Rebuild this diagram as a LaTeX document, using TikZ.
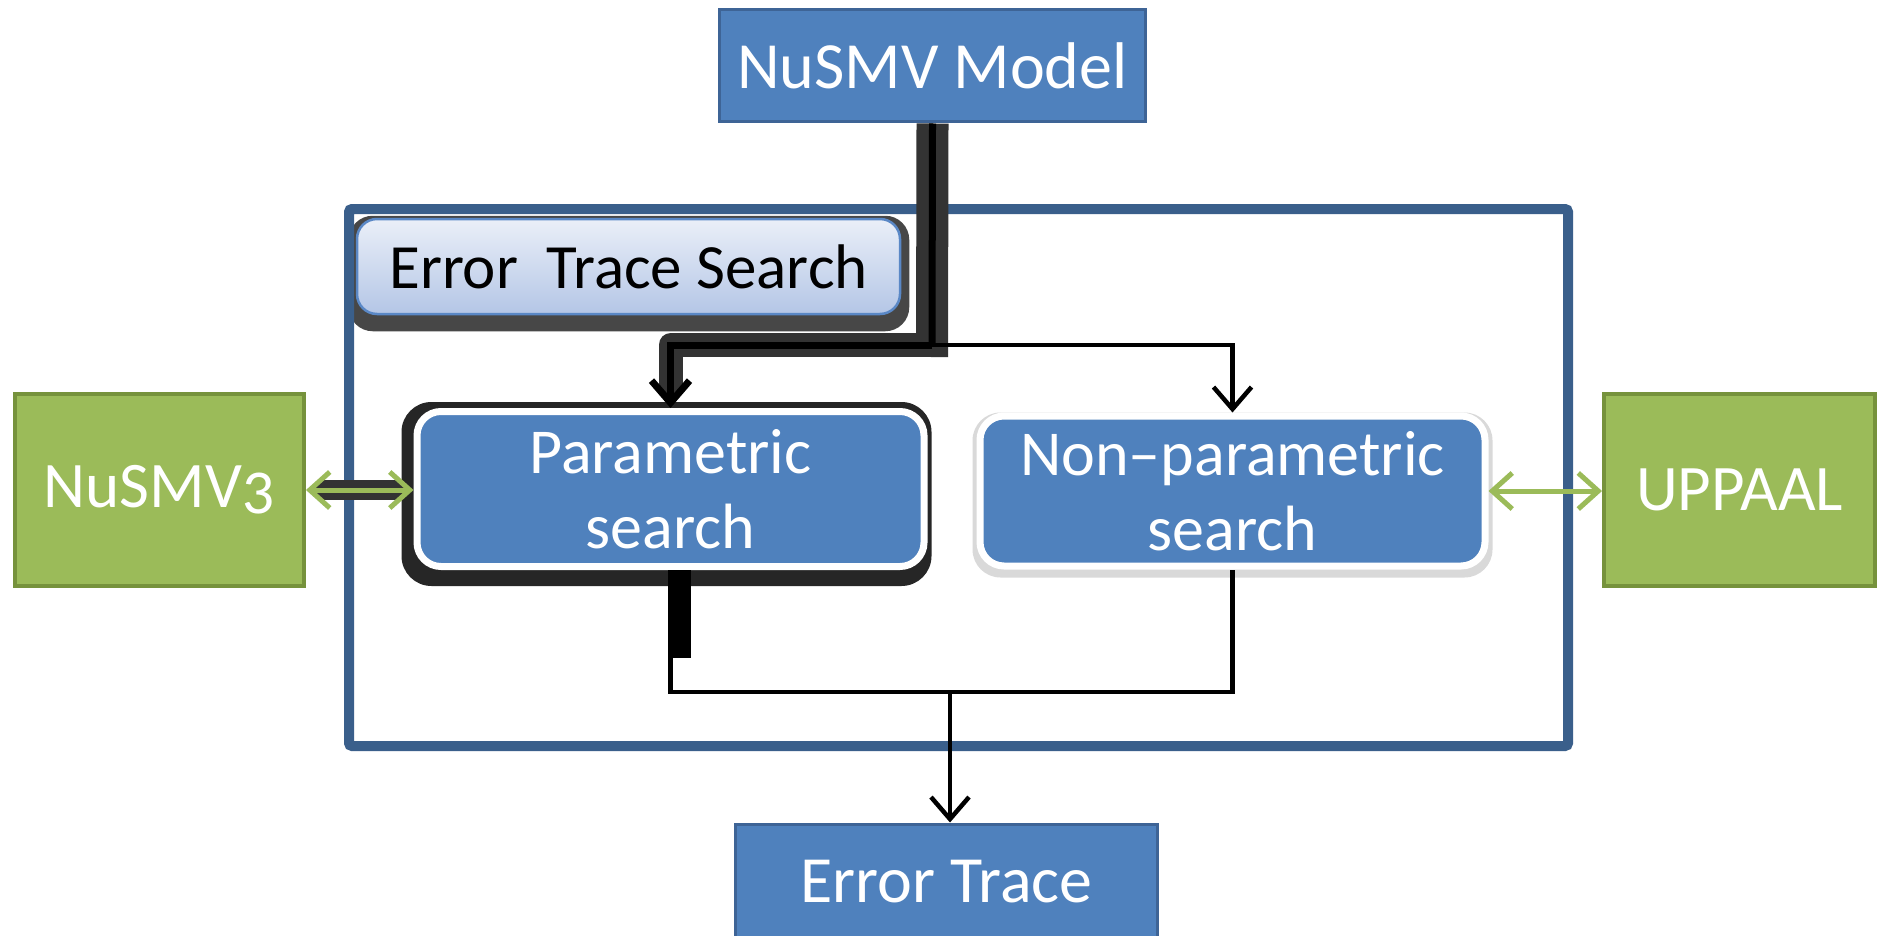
\documentclass[tikz,border=0pt]{standalone}
\usepackage{fontspec}
\setmainfont{Carlito}
\newfontfamily\onumfont{Carlito}[Numbers=OldStyle]
\usetikzlibrary{arrows.meta}
\definecolor{boxblue}{HTML}{4F81BD}
\definecolor{boxedge}{HTML}{3E6496}
\definecolor{framecol}{HTML}{3A5F8B}
\definecolor{boxgreen}{HTML}{9BBB59}
\definecolor{greenedge}{HTML}{76923C}
\definecolor{labeltop}{HTML}{EAEFF8}
\definecolor{labelbot}{HTML}{B4C6E6}
\definecolor{labeledge}{HTML}{5A88C6}
\pgfdeclarelayer{bg}
\pgfdeclarelayer{paper}
\pgfsetlayers{paper,bg,main}
\begin{document}
\begin{tikzpicture}[x=1pt,y=-1pt,
  sqbox/.style={draw=boxedge,line width=3pt,fill=boxblue,text=white,font=\fontsize{66}{75}\selectfont,inner sep=0pt},
  greenbox/.style={draw=greenedge,line width=4pt,fill=boxgreen,text=white,font=\fontsize{65}{75}\selectfont,inner sep=0pt},
  searchbox/.style={draw=white,line width=7pt,fill=boxblue,rounded corners=24pt,text=white,align=center,font=\fontsize{64}{75}\selectfont,inner sep=0pt},
  labelbox/.style={draw=labeledge,line width=2.5pt,top color=labeltop,bottom color=labelbot,rounded corners=20pt,text=black,font=\fontsize{63}{70}\selectfont,inner sep=0pt},
  thinline/.style={draw=black,line width=4.5pt},
  arrowtip/.style={-{Straight Barb[length=22pt,width=38pt]}},
  glow/.style={draw=black!80,line join=round},
  greenarrow/.style={draw=boxgreen,line width=5pt,{Straight Barb[length=20pt,width=36pt]}-{Straight Barb[length=20pt,width=36pt]}}
]
\useasboundingbox (0,0) rectangle (1878,936);
\clip (0,0) rectangle (1878,936);
\begin{pgfonlayer}{paper}
\fill[white] (0,0) rectangle (1878,936);
\end{pgfonlayer}

% frame
\draw[framecol,line width=10pt,rounded corners=3pt] (349,209) rectangle (1568,746);

% nodes
\node[sqbox,minimum width=426pt,minimum height=112pt] (model) at (932.5,66) {NuSMV Model};
\node[sqbox,minimum width=422pt,minimum height=116pt] (trace) at (946.5,882) {Error Trace};
\node[greenbox,minimum width=289pt,minimum height=192pt] (nusmv) at (159.5,490) {NuSMV{\onumfont 3}};
\node[greenbox,minimum width=271pt,minimum height=192pt] (uppaal) at (1739.5,490) {UPPAAL};
\node[labelbox,minimum width=543pt,minimum height=95pt] (title) at (628.5,266.5) {Error\ \ Trace Search};
\node[searchbox,minimum width=507pt,minimum height=155pt] (param) at (670.5,489) {Parametric\\search};
\node[searchbox,minimum width=505pt,minimum height=150pt] (nonparam) at (1232.5,491) {Non--parametric\\search};

% shadows
\begin{pgfonlayer}{bg}
\fill[black!72,rounded corners=24pt] ([shift={(-7,-2)}]title.north west) rectangle ([shift={(8,16)}]title.south east);
\fill[black!85,rounded corners=30pt] ([shift={(-12,-6)}]param.north west) rectangle ([shift={(4,16)}]param.south east);
\fill[black!15,rounded corners=28pt] ([shift={(-4,0)}]nonparam.north west) rectangle ([shift={(4,8)}]nonparam.south east);
\end{pgfonlayer}

% connectors
\coordinate (split) at (932,345);
\coordinate (merge) at (950,692);
\draw[glow,line width=32pt] (model.south) -- ([shift={(0,12)}]split);
\draw[glow,line width=24pt,line cap=round] (split) -| ([shift={(0,-20)}]param.north);
\draw[black,line width=7pt] (model.south) -- (split);
\draw[black,line width=7pt,arrowtip] (split) -| (param.north);
\draw[thinline,arrowtip] (split) -| (nonparam.north);

\draw[black,line width=22pt] ([shift={(9,0)}]param.south) -- ++(0,88);
\draw[thinline] (param.south) |- (merge) -| (nonparam.south);
\draw[thinline,arrowtip] (merge) -- (merge |- trace.north);

\draw[black!80,line width=20pt,line cap=round] ([shift={(16,0)}]nusmv.east) -- ([shift={(-16,0)}]nusmv.east -| param.west);
\draw[greenarrow] (nusmv.east) -- (nusmv.east -| param.west);
\draw[greenarrow] (nonparam.east) -- (nonparam.east -| uppaal.west);
\end{tikzpicture}
\end{document}
